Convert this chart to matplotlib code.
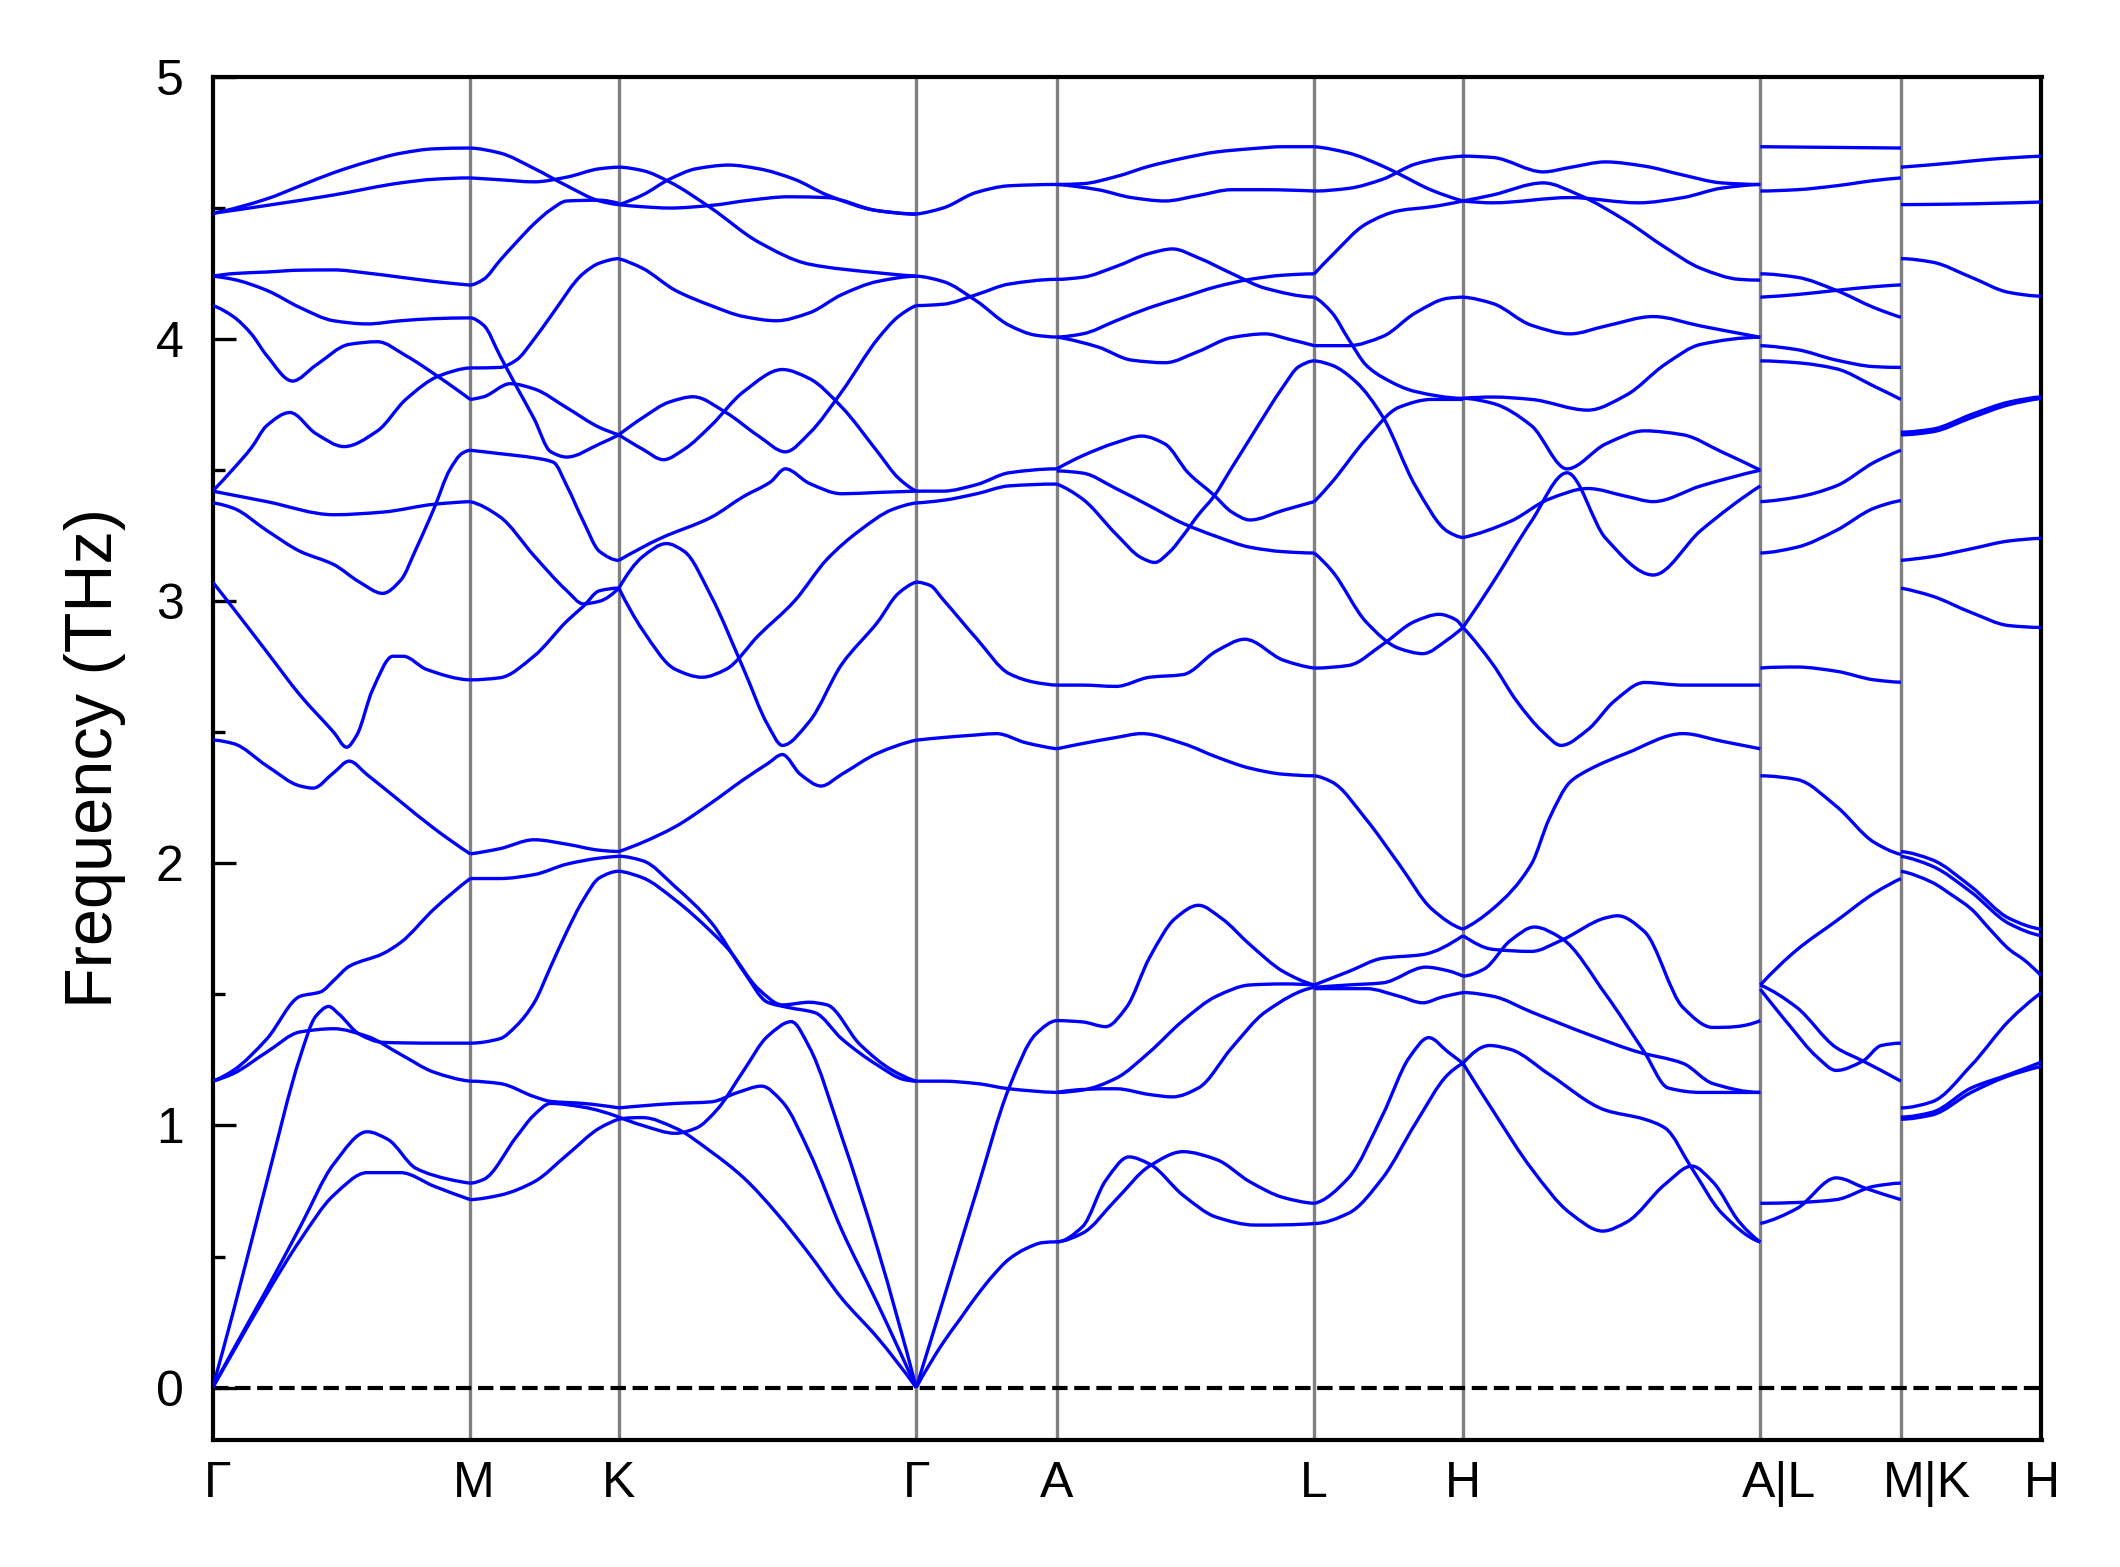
import matplotlib
matplotlib.use('Agg')
import matplotlib.pyplot as plt
from matplotlib.ticker import MultipleLocator
from matplotlib.path import Path
from matplotlib.patches import PathPatch
from matplotlib.transforms import ScaledTranslation
import numpy as np

plt.rcParams['font.family'] = ['Liberation Sans', 'DejaVu Sans']

# high-symmetry labels and segment lengths (path units)
labels = ['Γ', 'M', 'K', 'Γ', 'A', 'L', 'H', 'A|L', 'M|K', 'H']
seg_len = [1.0, 0.5774, 1.1547, 0.546, 1.0, 0.5774, 1.1547, 0.546, 0.546]

# each band: list of (fraction along segment, frequency THz)
GM = [
    [(0, 4.48), (0.21, 4.535), (0.34, 4.585), (0.47, 4.635), (0.60, 4.676), (0.73, 4.709), (0.86, 4.726), (1, 4.729)],
    [(0, 4.48), (0.21, 4.51), (0.47, 4.55), (0.73, 4.596), (0.86, 4.61), (1, 4.615)],
    [(0, 4.24), (0.08, 4.25), (0.21, 4.256), (0.34, 4.263), (0.47, 4.264), (0.60, 4.252), (0.73, 4.236), (0.86, 4.22), (1, 4.206)],
    [(0, 4.24), (0.08, 4.228), (0.21, 4.186), (0.34, 4.12), (0.47, 4.07), (0.60, 4.058), (0.73, 4.07), (0.86, 4.078), (1, 4.081)],
    [(0, 4.128), (0.08, 4.086), (0.15, 4.02), (0.21, 3.937), (0.31, 3.84), (0.40, 3.90), (0.53, 3.98), (0.64, 3.99), (0.75, 3.937), (0.88, 3.854), (1, 3.77)],
    [(0, 3.42), (0.08, 3.505), (0.15, 3.585), (0.21, 3.67), (0.30, 3.72), (0.40, 3.64), (0.51, 3.59), (0.64, 3.65), (0.75, 3.77), (0.88, 3.86), (1, 3.89)],
    [(0, 3.42), (0.21, 3.38), (0.47, 3.33), (0.66, 3.34), (0.86, 3.37), (1, 3.38)],
    [(0, 3.375), (0.08, 3.355), (0.21, 3.27), (0.34, 3.19), (0.47, 3.14), (0.57, 3.073), (0.66, 3.03), (0.73, 3.08), (0.79, 3.20), (0.86, 3.355), (0.92, 3.50), (0.97, 3.565), (1, 3.576)],
    [(0, 3.073), (0.08, 2.973), (0.21, 2.807), (0.34, 2.641), (0.47, 2.50), (0.52, 2.443), (0.56, 2.49), (0.62, 2.66), (0.70, 2.79), (0.74, 2.79), (0.83, 2.74), (1, 2.70)],
    [(0, 2.47), (0.08, 2.457), (0.21, 2.372), (0.34, 2.295), (0.39, 2.287), (0.47, 2.346), (0.53, 2.39), (0.60, 2.338), (0.73, 2.235), (0.86, 2.133), (1, 2.036)],
    [(0, 1.169), (0.08, 1.21), (0.21, 1.33), (0.34, 1.493), (0.42, 1.51), (0.47, 1.553), (0.53, 1.607), (0.66, 1.655), (0.73, 1.698), (0.86, 1.826), (1, 1.942)],
    [(0, 0), (0.08, 0.29), (0.21, 0.785), (0.34, 1.263), (0.40, 1.416), (0.45, 1.454), (0.49, 1.425), (0.57, 1.348), (0.66, 1.317), (0.86, 1.314), (1, 1.314)],
    [(0, 1.169), (0.08, 1.198), (0.21, 1.28), (0.34, 1.357), (0.47, 1.369), (0.60, 1.34), (0.73, 1.271), (0.86, 1.203), (1, 1.169)],
    [(0, 0), (0.08, 0.137), (0.21, 0.358), (0.34, 0.563), (0.47, 0.734), (0.60, 0.82), (0.73, 0.82), (0.86, 0.768), (1, 0.717)],
    [(0, 0), (0.08, 0.145), (0.21, 0.375), (0.34, 0.614), (0.47, 0.853), (0.60, 0.976), (0.68, 0.947), (0.79, 0.836), (0.92, 0.794), (1, 0.78)],
]

MK = [
    [(0, 4.729), (0.2, 4.71), (0.43, 4.651), (0.65, 4.585), (0.87, 4.527), (1, 4.513)],
    [(0, 4.615), (0.2, 4.608), (0.43, 4.60), (0.65, 4.618), (0.87, 4.65), (1, 4.656)],
    [(0, 4.206), (0.09, 4.228), (0.2, 4.30), (0.31, 4.369), (0.43, 4.44), (0.54, 4.493), (0.65, 4.527), (0.87, 4.53), (1, 4.518)],
    [(0, 4.081), (0.09, 4.053), (0.2, 3.937), (0.31, 3.82), (0.43, 3.696), (0.54, 3.571), (0.65, 3.55), (0.87, 3.60), (1, 3.635)],
    [(0, 3.77), (0.09, 3.78), (0.27, 3.83), (0.43, 3.81), (0.65, 3.738), (0.87, 3.663), (1, 3.635)],
    [(0, 3.89), (0.2, 3.892), (0.31, 3.92), (0.43, 4.0), (0.54, 4.086), (0.76, 4.25), (0.87, 4.29), (1, 4.307)],
    [(0, 3.38), (0.2, 3.322), (0.43, 3.173), (0.65, 3.04), (0.76, 2.99), (0.87, 3.0), (1, 3.05)],
    [(0, 3.576), (0.2, 3.563), (0.43, 3.547), (0.56, 3.53), (0.65, 3.44), (0.76, 3.306), (0.87, 3.19), (1, 3.156)],
    [(0, 2.70), (0.2, 2.708), (0.43, 2.791), (0.65, 2.924), (0.76, 2.98), (0.87, 3.04), (1, 3.05)],
    [(0, 2.036), (0.2, 2.056), (0.43, 2.09), (0.65, 2.073), (0.87, 2.05), (1, 2.045)],
    [(0, 1.942), (0.2, 1.942), (0.43, 1.957), (0.65, 1.997), (0.87, 2.02), (1, 2.027)],
    [(0, 1.314), (0.2, 1.331), (0.31, 1.38), (0.43, 1.468), (0.54, 1.604), (0.65, 1.74), (0.76, 1.86), (0.87, 1.945), (1, 1.97)],
    [(0, 1.169), (0.2, 1.16), (0.43, 1.11), (0.54, 1.092), (0.76, 1.084), (1, 1.067)],
    [(0, 0.78), (0.09, 0.794), (0.31, 0.956), (0.43, 1.04), (0.54, 1.084), (0.76, 1.07), (1, 1.032)],
    [(0, 0.717), (0.2, 0.734), (0.43, 0.785), (0.65, 0.887), (0.87, 0.99), (1, 1.024)],
]

KG = [
    [(0, 4.656), (0.08, 4.643), (0.17, 4.60), (0.31, 4.50), (0.47, 4.37), (0.64, 4.286), (0.87, 4.253), (1, 4.24)],
    [(0, 4.513), (0.08, 4.55), (0.17, 4.61), (0.26, 4.65), (0.37, 4.664), (0.47, 4.65), (0.59, 4.61), (0.70, 4.55), (0.87, 4.49), (1, 4.477)],
    [(0, 4.513), (0.08, 4.505), (0.17, 4.50), (0.31, 4.51), (0.44, 4.53), (0.57, 4.543), (0.70, 4.54), (0.87, 4.49), (1, 4.477)],
    [(0, 4.307), (0.08, 4.27), (0.19, 4.186), (0.31, 4.128), (0.42, 4.086), (0.53, 4.07), (0.64, 4.10), (0.75, 4.17), (0.87, 4.22), (1, 4.24)],
    [(0, 3.635), (0.08, 3.58), (0.15, 3.54), (0.22, 3.58), (0.31, 3.67), (0.42, 3.80), (0.55, 3.884), (0.64, 3.85), (0.75, 3.74), (0.87, 3.57), (0.94, 3.47), (1, 3.42)],
    [(0, 3.635), (0.08, 3.70), (0.17, 3.76), (0.25, 3.78), (0.36, 3.72), (0.47, 3.63), (0.56, 3.57), (0.64, 3.64), (0.75, 3.80), (0.87, 4.0), (0.94, 4.086), (1, 4.128)],
    [(0, 3.156), (0.14, 3.24), (0.31, 3.32), (0.42, 3.40), (0.51, 3.455), (0.56, 3.505), (0.64, 3.45), (0.75, 3.41), (0.87, 3.415), (1, 3.42)],
    [(0, 3.05), (0.08, 3.17), (0.16, 3.22), (0.22, 3.19), (0.31, 3.02), (0.42, 2.74), (0.50, 2.53), (0.55, 2.45), (0.64, 2.54), (0.75, 2.76), (0.87, 2.92), (0.94, 3.03), (1, 3.073)],
    [(0, 3.05), (0.08, 2.89), (0.19, 2.74), (0.28, 2.71), (0.36, 2.74), (0.47, 2.87), (0.59, 3.0), (0.70, 3.16), (0.81, 3.27), (0.92, 3.35), (1, 3.375)],
    [(0, 2.045), (0.08, 2.08), (0.19, 2.14), (0.31, 2.23), (0.42, 2.32), (0.50, 2.38), (0.55, 2.415), (0.61, 2.34), (0.68, 2.295), (0.75, 2.34), (0.87, 2.42), (1, 2.47)],
    [(0, 2.027), (0.08, 2.01), (0.19, 1.91), (0.31, 1.775), (0.42, 1.587), (0.50, 1.47), (0.57, 1.45), (0.66, 1.43), (0.75, 1.33), (0.87, 1.23), (0.96, 1.175), (1, 1.169)],
    [(0, 1.97), (0.08, 1.945), (0.19, 1.86), (0.31, 1.74), (0.37, 1.67), (0.47, 1.52), (0.55, 1.46), (0.64, 1.47), (0.70, 1.46), (0.81, 1.31), (0.92, 1.21), (1, 1.169)],
    [(0, 1.067), (0.08, 1.075), (0.19, 1.084), (0.31, 1.09), (0.40, 1.126), (0.48, 1.15), (0.55, 1.09), (0.64, 0.90), (0.75, 0.60), (0.87, 0.32), (1, 0)],
    [(0, 1.032), (0.08, 1.0), (0.19, 0.97), (0.26, 0.99), (0.33, 1.06), (0.42, 1.21), (0.50, 1.34), (0.58, 1.396), (0.64, 1.30), (0.75, 0.956), (0.87, 0.53), (1, 0)],
    [(0, 1.024), (0.08, 1.03), (0.19, 0.99), (0.31, 0.90), (0.42, 0.80), (0.53, 0.666), (0.64, 0.51), (0.75, 0.34), (0.87, 0.19), (1, 0)],
]

GA = [
    [(0, 4.477), (0.19, 4.50), (0.43, 4.56), (0.66, 4.585), (1, 4.59)],
    [(0, 4.24), (0.19, 4.22), (0.43, 4.145), (0.66, 4.053), (0.85, 4.015), (1, 4.008)],
    [(0, 4.128), (0.19, 4.133), (0.43, 4.17), (0.66, 4.21), (1, 4.228)],
    [(0, 3.42), (0.19, 3.42), (0.43, 3.445), (0.66, 3.49), (1, 3.505)],
    [(0, 3.375), (0.19, 3.385), (0.43, 3.41), (0.66, 3.44), (1, 3.447)],
    [(0, 3.073), (0.10, 3.06), (0.19, 3.007), (0.43, 2.857), (0.66, 2.724), (0.85, 2.69), (1, 2.68)],
    [(0, 2.47), (0.19, 2.48), (0.43, 2.49), (0.57, 2.495), (0.78, 2.46), (1, 2.437)],
    [(0, 1.169), (0.19, 1.169), (0.43, 1.16), (0.66, 1.14), (1, 1.126)],
    [(0, 0), (0.19, 0.33), (0.43, 0.75), (0.66, 1.143), (0.85, 1.348), (1, 1.40)],
    [(0, 0), (0.19, 0.17), (0.31, 0.26), (0.43, 0.35), (0.55, 0.43), (0.66, 0.49), (0.78, 0.53), (0.90, 0.553), (1, 0.556)],
]

AL = [
    [(0, 4.59), (0.10, 4.593), (0.23, 4.62), (0.36, 4.66), (0.49, 4.69), (0.62, 4.714), (0.75, 4.726), (0.88, 4.734), (1, 4.734)],
    [(0, 4.59), (0.16, 4.57), (0.29, 4.54), (0.42, 4.527), (0.55, 4.548), (0.68, 4.57), (0.81, 4.57), (1, 4.565)],
    [(0, 4.228), (0.10, 4.236), (0.23, 4.277), (0.36, 4.327), (0.45, 4.344), (0.55, 4.31), (0.68, 4.25), (0.81, 4.194), (1, 4.16)],
    [(0, 4.008), (0.10, 4.02), (0.23, 4.07), (0.36, 4.12), (0.49, 4.16), (0.62, 4.20), (0.75, 4.228), (0.88, 4.244), (1, 4.249)],
    [(0, 4.008), (0.16, 3.97), (0.29, 3.92), (0.42, 3.91), (0.55, 3.953), (0.68, 4.006), (0.81, 4.02), (0.90, 4.0), (1, 3.975)],
    [(0, 3.505), (0.10, 3.555), (0.23, 3.605), (0.33, 3.63), (0.42, 3.60), (0.51, 3.49), (0.61, 3.405), (0.68, 3.34), (0.75, 3.31), (0.88, 3.347), (1, 3.38)],
    [(0, 3.497), (0.10, 3.489), (0.23, 3.43), (0.36, 3.364), (0.49, 3.297), (0.62, 3.247), (0.75, 3.206), (0.88, 3.189), (1, 3.184)],
    [(0, 3.447), (0.10, 3.39), (0.23, 3.256), (0.33, 3.165), (0.38, 3.148), (0.44, 3.19), (0.49, 3.25), (0.55, 3.33), (0.61, 3.40), (0.68, 3.51), (0.75, 3.62), (0.82, 3.73), (0.88, 3.82), (0.94, 3.895), (1, 3.917)],
    [(0, 2.68), (0.10, 2.68), (0.23, 2.675), (0.36, 2.71), (0.49, 2.72), (0.62, 2.81), (0.73, 2.855), (0.88, 2.775), (1, 2.745)],
    [(0, 2.437), (0.10, 2.457), (0.23, 2.48), (0.33, 2.495), (0.49, 2.457), (0.62, 2.406), (0.75, 2.363), (0.88, 2.34), (1, 2.334)],
    [(0, 1.40), (0.10, 1.395), (0.19, 1.377), (0.27, 1.45), (0.36, 1.64), (0.46, 1.79), (0.55, 1.84), (0.64, 1.79), (0.75, 1.69), (0.88, 1.587), (1, 1.536)],
    [(0, 1.126), (0.23, 1.14), (0.36, 1.118), (0.45, 1.109), (0.55, 1.143), (0.68, 1.297), (0.81, 1.433), (1, 1.527)],
    [(0, 1.126), (0.10, 1.135), (0.23, 1.18), (0.36, 1.28), (0.49, 1.40), (0.62, 1.493), (0.75, 1.536), (0.88, 1.54), (1, 1.536)],
    [(0, 0.556), (0.10, 0.614), (0.19, 0.79), (0.28, 0.88), (0.36, 0.853), (0.49, 0.734), (0.62, 0.65), (0.77, 0.62), (1, 0.626)],
    [(0, 0.556), (0.10, 0.589), (0.23, 0.717), (0.36, 0.845), (0.49, 0.90), (0.62, 0.87), (0.75, 0.785), (0.88, 0.725), (1, 0.703)],
]

LH = [
    [(0, 4.734), (0.23, 4.71), (0.46, 4.66), (0.57, 4.63), (0.79, 4.568), (1, 4.527)],
    [(0, 4.565), (0.23, 4.575), (0.46, 4.61), (0.68, 4.668), (0.86, 4.69), (1, 4.698)],
    [(0, 4.249), (0.12, 4.32), (0.35, 4.44), (0.57, 4.49), (0.79, 4.505), (1, 4.527)],
    [(0, 4.16), (0.12, 4.10), (0.23, 4.0), (0.35, 3.90), (0.46, 3.854), (0.68, 3.80), (1, 3.774)],
    [(0, 3.975), (0.23, 3.975), (0.46, 4.01), (0.68, 4.10), (0.90, 4.156), (1, 4.16)],
    [(0, 3.917), (0.12, 3.90), (0.28, 3.837), (0.46, 3.704), (0.68, 3.44), (0.90, 3.265), (1, 3.243)],
    [(0, 3.38), (0.12, 3.455), (0.35, 3.62), (0.57, 3.74), (0.79, 3.77), (1, 3.77)],
    [(0, 3.184), (0.12, 3.115), (0.35, 2.92), (0.57, 2.82), (0.73, 2.80), (0.90, 2.855), (1, 2.90)],
    [(0, 2.745), (0.23, 2.755), (0.46, 2.835), (0.68, 2.924), (0.84, 2.95), (0.95, 2.93), (1, 2.90)],
    [(0, 2.334), (0.12, 2.31), (0.35, 2.167), (0.57, 1.997), (0.79, 1.826), (1, 1.749)],
    [(0, 1.536), (0.23, 1.587), (0.46, 1.638), (0.73, 1.652), (1, 1.724)],
    [(0, 1.527), (0.23, 1.536), (0.46, 1.544), (0.75, 1.604), (0.90, 1.59), (1, 1.57)],
    [(0, 1.522), (0.35, 1.522), (0.57, 1.493), (0.73, 1.468), (0.86, 1.49), (1, 1.507)],
    [(0, 0.703), (0.23, 0.80), (0.46, 1.04), (0.64, 1.26), (0.77, 1.335), (0.90, 1.28), (1, 1.237)],
    [(0, 0.626), (0.23, 0.665), (0.46, 0.80), (0.68, 1.007), (0.90, 1.195), (1, 1.237)],
]

HA = [
    [(0, 4.698), (0.10, 4.693), (0.27, 4.638), (0.36, 4.655), (0.48, 4.676), (0.61, 4.66), (0.74, 4.626), (0.87, 4.596), (1, 4.59)],
    [(0, 4.527), (0.10, 4.55), (0.27, 4.596), (0.39, 4.55), (0.55, 4.45), (0.68, 4.35), (0.80, 4.27), (0.93, 4.228), (1, 4.225)],
    [(0, 4.527), (0.10, 4.52), (0.36, 4.54), (0.59, 4.52), (0.74, 4.54), (0.87, 4.576), (1, 4.59)],
    [(0, 4.16), (0.10, 4.136), (0.23, 4.053), (0.36, 4.02), (0.48, 4.05), (0.64, 4.086), (0.80, 4.05), (1, 4.007)],
    [(0, 3.774), (0.10, 3.779), (0.23, 3.77), (0.42, 3.729), (0.55, 3.787), (0.68, 3.904), (0.80, 3.98), (1, 4.007)],
    [(0, 3.774), (0.10, 3.755), (0.23, 3.67), (0.35, 3.505), (0.48, 3.60), (0.61, 3.65), (0.74, 3.635), (0.87, 3.57), (1, 3.50)],
    [(0, 3.243), (0.16, 3.305), (0.29, 3.39), (0.42, 3.43), (0.55, 3.40), (0.64, 3.38), (0.80, 3.44), (1, 3.50)],
    [(0, 2.90), (0.10, 3.07), (0.23, 3.305), (0.35, 3.49), (0.48, 3.24), (0.64, 3.10), (0.80, 3.27), (1, 3.44)],
    [(0, 2.90), (0.10, 2.76), (0.18, 2.62), (0.27, 2.50), (0.33, 2.45), (0.42, 2.51), (0.51, 2.62), (0.61, 2.69), (0.74, 2.68), (1, 2.68)],
    [(0, 1.749), (0.10, 1.826), (0.23, 1.997), (0.29, 2.17), (0.36, 2.31), (0.42, 2.355), (0.55, 2.42), (0.74, 2.495), (0.87, 2.466), (1, 2.437)],
    [(0, 1.724), (0.10, 1.672), (0.23, 1.664), (0.33, 1.706), (0.48, 1.792), (0.52, 1.80), (0.61, 1.74), (0.74, 1.45), (0.84, 1.374), (1, 1.40)],
    [(0, 1.57), (0.07, 1.596), (0.16, 1.706), (0.24, 1.757), (0.33, 1.715), (0.48, 1.50), (0.61, 1.28), (0.69, 1.143), (0.80, 1.126), (1, 1.126)],
    [(0, 1.507), (0.10, 1.493), (0.23, 1.433), (0.42, 1.348), (0.59, 1.28), (0.74, 1.237), (0.84, 1.16), (1, 1.126)],
    [(0, 1.237), (0.09, 1.305), (0.16, 1.29), (0.29, 1.195), (0.48, 1.058), (0.61, 1.024), (0.68, 0.99), (0.77, 0.836), (0.87, 0.666), (1, 0.555)],
    [(0, 1.237), (0.10, 1.058), (0.23, 0.836), (0.36, 0.666), (0.47, 0.597), (0.55, 0.631), (0.68, 0.776), (0.77, 0.845), (0.84, 0.785), (0.93, 0.631), (1, 0.555)],
]

LM = [
    [(0, 4.734), (1, 4.729)],
    [(0, 4.565), (0.26, 4.57), (0.54, 4.585), (0.81, 4.605), (1, 4.615)],
    [(0, 4.249), (0.26, 4.236), (0.54, 4.186), (0.81, 4.12), (1, 4.083)],
    [(0, 4.16), (0.26, 4.17), (0.54, 4.186), (0.81, 4.20), (1, 4.207)],
    [(0, 3.975), (0.26, 3.96), (0.54, 3.92), (0.81, 3.895), (1, 3.892)],
    [(0, 3.917), (0.26, 3.91), (0.54, 3.887), (0.81, 3.82), (1, 3.77)],
    [(0, 3.38), (0.26, 3.397), (0.54, 3.44), (0.81, 3.53), (1, 3.576)],
    [(0, 3.184), (0.26, 3.206), (0.54, 3.27), (0.81, 3.355), (1, 3.384)],
    [(0, 2.745), (0.26, 2.749), (0.54, 2.733), (0.81, 2.70), (1, 2.691)],
    [(0, 2.334), (0.26, 2.32), (0.54, 2.218), (0.81, 2.08), (1, 2.034)],
    [(0, 1.536), (0.26, 1.67), (0.54, 1.78), (0.81, 1.886), (1, 1.942)],
    [(0, 1.536), (0.26, 1.45), (0.54, 1.297), (0.73, 1.246), (1, 1.169)],
    [(0, 1.52), (0.21, 1.38), (0.40, 1.263), (0.54, 1.21), (0.73, 1.246), (0.86, 1.305), (1, 1.314)],
    [(0, 0.703), (0.26, 0.706), (0.54, 0.717), (0.81, 0.768), (1, 0.78)],
    [(0, 0.626), (0.26, 0.683), (0.54, 0.80), (0.75, 0.76), (1, 0.717)],
]

KH = [
    [(0, 4.656), (0.36, 4.672), (0.63, 4.686), (1, 4.698)],
    [(0, 4.513), (0.36, 4.515), (1, 4.523)],
    [(0, 4.307), (0.22, 4.294), (0.50, 4.236), (0.77, 4.178), (1, 4.164)],
    [(0, 3.635), (0.22, 3.646), (0.50, 3.70), (0.77, 3.75), (1, 3.774)],
    [(0, 3.645), (0.22, 3.656), (0.50, 3.712), (0.77, 3.76), (1, 3.78)],
    [(0, 3.156), (0.22, 3.17), (0.50, 3.20), (0.77, 3.23), (1, 3.24)],
    [(0, 3.05), (0.22, 3.02), (0.50, 2.957), (0.77, 2.907), (1, 2.90)],
    [(0, 2.045), (0.22, 2.014), (0.50, 1.911), (0.77, 1.79), (1, 1.749)],
    [(0, 2.027), (0.22, 1.99), (0.50, 1.89), (0.77, 1.77), (1, 1.724)],
    [(0, 1.97), (0.22, 1.928), (0.36, 1.88), (0.50, 1.826), (0.63, 1.75), (0.77, 1.672), (0.88, 1.63), (1, 1.57)],
    [(0, 1.067), (0.22, 1.09), (0.50, 1.229), (0.77, 1.40), (1, 1.507)],
    [(0, 1.032), (0.22, 1.05), (0.50, 1.143), (0.77, 1.195), (1, 1.242)],
    [(0, 1.024), (0.22, 1.04), (0.50, 1.126), (0.77, 1.19), (1, 1.225)],
]

segments = [GM, MK, KG, GA, AL, LH, HA, LM, KH]


def band_path(x, y):
    """Smooth Bezier path passing through every read point (monotone Hermite tangents)."""
    x = np.asarray(x, float)
    y = np.asarray(y, float)
    n = len(x)
    if n < 3:
        return Path(np.column_stack([x, y]))
    h = np.diff(x)
    d = np.diff(y) / h
    m = np.zeros(n)
    for i in range(1, n - 1):
        if d[i - 1] * d[i] <= 0:
            m[i] = 0.0
        else:
            w1 = 2 * h[i] + h[i - 1]
            w2 = h[i] + 2 * h[i - 1]
            m[i] = (w1 + w2) / (w1 / d[i - 1] + w2 / d[i])

    def end_slope(h0, h1, d0, d1):
        s = ((2 * h0 + h1) * d0 - h0 * d1) / (h0 + h1)
        if np.sign(s) != np.sign(d0):
            s = 0.0
        elif np.sign(d0) != np.sign(d1) and abs(s) > abs(3 * d0):
            s = 3 * d0
        return s

    m[0] = end_slope(h[0], h[1], d[0], d[1])
    m[-1] = end_slope(h[-1], h[-2], d[-1], d[-2])
    verts = [(x[0], y[0])]
    codes = [Path.MOVETO]
    for i in range(n - 1):
        verts += [(x[i] + h[i] / 3, y[i] + m[i] * h[i] / 3),
                  (x[i + 1] - h[i] / 3, y[i + 1] - m[i + 1] * h[i] / 3),
                  (x[i + 1], y[i + 1])]
        codes += [Path.CURVE4] * 3
    return Path(verts, codes)


fig = plt.figure(figsize=(2120 / 300, 1567 / 300), dpi=300)
ax = fig.add_axes([212.7 / 2120, 1 - 1440 / 1567, (2041.5 - 212.7) / 2120, (1440 - 77) / 1567])

starts = np.concatenate([[0.0], np.cumsum(seg_len)])
for s0, L, seg in zip(starts[:-1], seg_len, segments):
    for band in seg:
        t, f = zip(*band)
        patch = PathPatch(band_path(s0 + L * np.array(t), f), facecolor='none',
                          edgecolor='#0000ff', lw=0.8, zorder=3)
        ax.add_patch(patch)

for x in starts[1:-1]:
    ax.axvline(x, color='#808080', lw=0.8, zorder=1)
ax.axhline(0, color='k', ls='--', lw=1.0, zorder=2)

ax.set_xlim(0, starts[-1])
ax.set_ylim(-0.2, 5)
ax.set_xticks(starts)
ax.set_xticklabels(labels)
ax.tick_params(axis='x', length=0, pad=5, labelsize=12)
ax.yaxis.set_major_locator(MultipleLocator(1))
ax.yaxis.set_minor_locator(MultipleLocator(0.5))
ax.tick_params(axis='y', which='major', direction='in', length=5.5, width=0.8, pad=7, labelsize=12)
ax.tick_params(axis='y', which='minor', direction='in', length=2.8, width=0.8)
for sp in ax.spines.values():
    sp.set_linewidth(1.0)
ax.set_ylabel('Frequency (THz)', fontsize=16)
ax.yaxis.set_label_coords(-0.0474, 0.5)

# the combined labels sit slightly right of their tick in the reference
label_shift_pt = [1.2, 0.8, 0, 0, 0, 0, 0, 4.6, 6.2, 0]
for lab, dx in zip(ax.get_xticklabels(), label_shift_pt):
    if dx:
        lab.set_transform(lab.get_transform() + ScaledTranslation(dx / 72, 0, fig.dpi_scale_trans))

fig.savefig('out.png', dpi=300)
